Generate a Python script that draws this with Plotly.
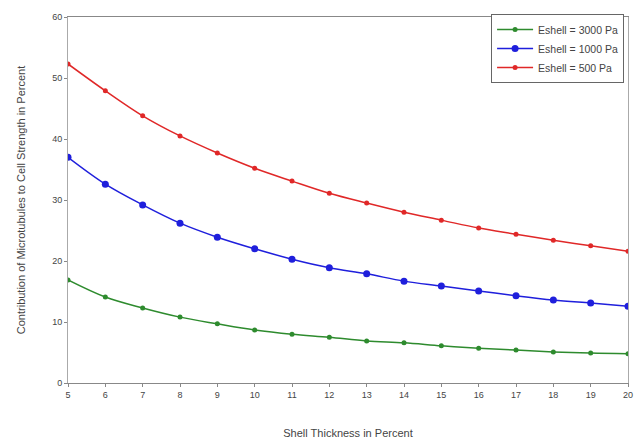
import plotly.graph_objects as go

thickness = list(range(5, 21))
tick_labels = [str(v) for v in thickness]

e3000 = [16.9, 14.1, 12.3, 10.8, 9.7, 8.7, 8.0, 7.5, 6.9, 6.6, 6.1, 5.7, 5.4, 5.1, 4.9, 4.8]
e1000 = [37.0, 32.6, 29.2, 26.2, 23.9, 22.0, 20.3, 18.9, 17.9, 16.7, 15.9, 15.1, 14.3, 13.6, 13.1, 12.6]
e500 = [52.3, 47.9, 43.8, 40.5, 37.7, 35.2, 33.1, 31.1, 29.5, 28.0, 26.7, 25.4, 24.4, 23.4, 22.5, 21.6]

series = [
    ("Eshell = 3000 Pa", e3000, "#2e8b2e", 5),
    ("Eshell = 1000 Pa", e1000, "#1f1fdc", 7),
    ("Eshell = 500 Pa", e500, "#e02828", 5),
]

fig = go.Figure()
for name, vals, col, ms in series:
    fig.add_trace(go.Scatter(
        x=thickness, y=vals, name=name, mode="lines+markers",
        line=dict(color=col, width=1.5, shape="spline"),
        marker=dict(color=col, size=ms),
    ))

font = dict(family="Liberation Sans, Arial, sans-serif", color="#444")
fig.update_layout(
    width=644, height=441,
    margin=dict(l=68, r=16, t=17, b=58, autoexpand=False),
    paper_bgcolor="white", plot_bgcolor="white",
    font=dict(size=9, **font),
    legend=dict(
        x=0.993, y=1.008, xanchor="right", yanchor="top",
        bgcolor="white", bordercolor="#666", borderwidth=1,
        font=dict(size=10.5, **font), tracegroupgap=0,
        itemwidth=36,
    ),
    showlegend=True,
)
fig.update_xaxes(
    range=[5, 20], tickvals=thickness, ticktext=tick_labels, automargin=False,
    showgrid=False, zeroline=False, showline=True, linecolor="#888", linewidth=1,
    mirror=True, ticks="outside", ticklen=3, tickcolor="#888",
    title=dict(text="Shell Thickness in Percent", font=dict(size=11, **font), standoff=30),
)
fig.update_yaxes(
    range=[0, 60], tickvals=[0, 10, 20, 30, 40, 50, 60], automargin=False,
    showgrid=False, zeroline=False, showline=True, linecolor="#aaa", linewidth=1,
    mirror=True, ticks="outside", ticklen=3, tickcolor="#888",
    title=dict(text="Contribution of Microtubules to Cell Strength in Percent", font=dict(size=11, **font), standoff=24),
)

fig.write_html("out.html", config={"displayModeBar": False})

# remove the default 8px body margin so the figure fills the window exactly
with open("out.html", encoding="utf-8") as f:
    html = f.read()
html = html.replace("<body>", '<body style="margin:0;padding:0;overflow:hidden">', 1)
with open("out.html", "w", encoding="utf-8") as f:
    f.write(html)
